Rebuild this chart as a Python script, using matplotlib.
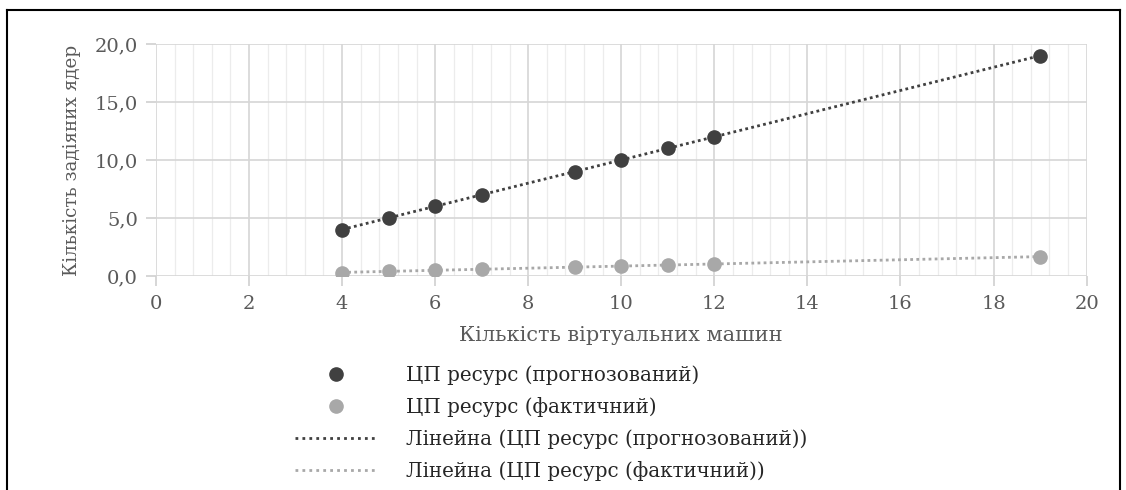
import matplotlib.pyplot as plt
import numpy as np
from matplotlib.lines import Line2D
from matplotlib.ticker import MultipleLocator

plt.rcParams['font.family'] = ['DejaVu Serif', 'Liberation Serif']

vms = [4, 5, 6, 7, 9, 10, 11, 12, 19]
predicted = [4, 5, 6, 7, 9, 10, 11, 12, 19]
actual = [0.28, 0.38, 0.48, 0.58, 0.78, 0.85, 0.93, 1.03, 1.65]

labels = ["ЦП ресурс (прогнозований)", "ЦП ресурс (фактичний)",
          "Лінейна (ЦП ресурс (прогнозований))", "Лінейна (ЦП ресурс (фактичний))"]

dark = "#404040"
light = "#a8a8a8"
textc = "#5a5a5a"

fig = plt.figure(figsize=(11.26, 4.9), dpi=100)
ax = fig.add_axes([0.1385, 0.437, 0.8265, 0.473])

# trendlines
xs = np.array([min(vms), max(vms)])
for ys, c in [(predicted, dark), (actual, light)]:
    k, b = np.polyfit(vms, ys, 1)
    ax.plot(xs, k * xs + b, linestyle=(0, (1, 1.2)), color=c, lw=2, zorder=2)

ax.plot(vms, predicted, "o", color=dark, ms=9.5, zorder=3)
ax.plot(vms, actual, "o", color=light, ms=9.5, zorder=3)

ax.set_xlim(0, 20)
ax.set_ylim(0, 20)
ax.xaxis.set_major_locator(MultipleLocator(2))
ax.xaxis.set_minor_locator(MultipleLocator(0.4))
ax.yaxis.set_major_locator(MultipleLocator(5))
ax.set_yticklabels(["{:.1f}".format(v).replace(".", ",") for v in ax.get_yticks()])
ax.grid(True, which="major", color="#d6d6d6", lw=1.2, zorder=0)
ax.grid(True, which="minor", axis="x", color="#ececec", lw=0.9, zorder=0)
for s in ax.spines.values():
    s.set_visible(False)
ax.tick_params(which="major", colors="#d0d0d0", labelcolor=textc, labelsize=14, length=7, width=1.2)
ax.tick_params(which="minor", length=0)
ax.tick_params(axis="x", pad=7)
ax.tick_params(axis="y", pad=6)

ax.set_xlabel("Кількість віртуальних машин", fontsize=15, color=textc, labelpad=9)
ax.set_ylabel("Кількість задіяних ядер", fontsize=13.2, color=textc, labelpad=10)

handles = [
    Line2D([], [], marker="o", ls="none", color=dark, ms=9.5),
    Line2D([], [], marker="o", ls="none", color=light, ms=9.5),
    Line2D([], [], ls=(0, (1, 1.5)), color=dark, lw=2),
    Line2D([], [], ls=(0, (1, 1.5)), color=light, lw=2),
]
leg = fig.legend(handles, labels, loc="upper left", bbox_to_anchor=(0.2545, 0.27),
                 frameon=False, fontsize=14.3, handlelength=4.2, handletextpad=1.4,
                 labelspacing=0.6, borderaxespad=0)
for t in leg.get_texts():
    t.set_color("#262626")

# outer frame
fig.add_artist(Line2D([0.006, 0.995], [0.98, 0.98], color="black", lw=1.5, transform=fig.transFigure))
fig.add_artist(Line2D([0.006, 0.006], [0.0, 0.98], color="black", lw=1.5, transform=fig.transFigure))
fig.add_artist(Line2D([0.995, 0.995], [0.0, 0.98], color="black", lw=1.5, transform=fig.transFigure))

fig.savefig("out.png", dpi=100)
